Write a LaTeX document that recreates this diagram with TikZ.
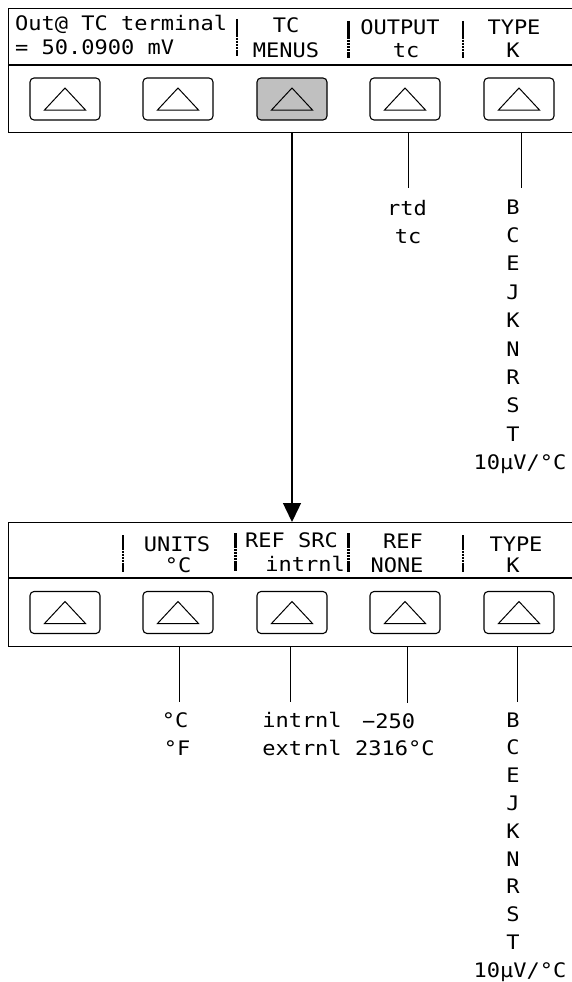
\documentclass[tikz,border=0pt]{standalone}
\usepackage{fontspec}
\usetikzlibrary{arrows.meta,calc}
\newfontfamily\lcdfont{DejaVu Sans Mono}[FakeStretch=1.1]
\definecolor{keygray}{RGB}{192,192,192}
\tikzset{
  lcd/.style={font=\lcdfont\fontsize{20}{20}\selectfont, inner sep=0pt, text=black},
  panelbox/.style={draw, line width=1.3pt, minimum width=580pt, minimum height=123.5pt, inner sep=0pt, anchor=north west},
  key/.style={draw, rounded corners=4pt, line width=1.1pt, minimum width=70pt, minimum height=42pt, inner sep=0pt},
  keyon/.style={key, fill=keygray},
  tri/.style={line width=1pt, line join=miter},
  sepbar/.style={line width=2.6pt, dash pattern=on 2.6pt off 0.5pt},
  wire/.style={line width=0.9pt},
  mark2/.style={line width=2.6pt},
}
\begin{document}
\begin{tikzpicture}[x=1pt,y=-1pt]
\useasboundingbox (0,0) rectangle (572,982);
% panels
\node[panelbox] (top) at (8,8) {};
\node[panelbox] (bot) at (8,522) {};
\draw[line width=1.3pt] ($(top.north west)+(0,57)$) -- ($(top.north east)+(0,57)$);
\draw[line width=1.3pt] ($(bot.north west)+(0,56)$) -- ($(bot.north east)+(0,56)$);
% keys
\node[key] (t1) at (65,99) {};
\node[key] (t2) at (178,99) {};
\node[keyon] (t3) at (292,99) {};
\node[key] (t4) at (405,99) {};
\node[key] (t5) at (519,99) {};
\node[key] (u1) at (65,612.5) {};
\node[key] (u2) at (178,612.5) {};
\node[key] (u3) at (292,612.5) {};
\node[key] (u4) at (405,612.5) {};
\node[key] (u5) at (519,612.5) {};
\foreach \b in {t1,t2,t3,t4,t5,u1,u2,u3,u4,u5}
  \draw[tri] ($(\b)+(-20.5,11)$) -- ($(\b)+(0,-11)$) -- ($(\b)+(20.5,11)$) -- cycle;
% top display text
\node[lcd, anchor=base west] (l1) at (15,31) {Out@ TC terminal};
\node[lcd, anchor=base west] (l2) at (15,55) {= 50.0900 mV};
\draw[sepbar] (237,19) -- (237,56);
\node[lcd, anchor=base] (m1) at (286,33) {TC};
\node[lcd, anchor=base] (m2) at (286,57) {MENUS};
\draw[sepbar] (348.5,21) -- (348.5,58);
\draw[mark2] (338,65) -- (349,65);
\node[lcd, anchor=base] (o1) at (400,35) {OUTPUT};
\node[lcd, anchor=base] (o2) at (406,57) {tc};
\draw[sepbar] (463,21) -- (463,58);
\node[lcd, anchor=base] (y1) at (514,35) {TYPE};
\node[lcd, anchor=base] (y2) at (513,57) {K};
% bottom display text
\draw[sepbar] (123,535) -- (123,572);
\node[lcd, anchor=base] (n1) at (177,551) {UNITS};
\node[lcd, anchor=base] (n2) at (178,572) {°C};
\draw[sepbar] (235.5,533) -- (235.5,571);
\node[lcd, anchor=base west] (r1) at (245,547) {REF SRC};
\node[lcd, anchor=base east] (r2) at (345,571) {intrnl};
\draw[sepbar] (348.5,533) -- (348.5,572);
\draw[mark2] (338,578) -- (349,578);
\node[lcd, anchor=base] (f1) at (403,548) {REF};
\node[lcd, anchor=base] (f2) at (397,572) {NONE};
\draw[sepbar] (463,535) -- (463,572);
\node[lcd, anchor=base] (z1) at (516,551) {TYPE};
\node[lcd, anchor=base] (z2) at (513,572) {K};
% arrow
\draw[line width=1.4pt, -{Triangle[width=18pt,length=19pt]}] (top.south -| t3) -- (bot.north -| t3);
% top option lists
\coordinate (e4) at (408,188);
\coordinate (e5) at (521,188);
\draw[wire] (top.south -| e4) -- (e4);
\draw[wire] (top.south -| e5) -- (e5);
\node[lcd, anchor=base] (rtd) at (407,215) {rtd};
\node[lcd, anchor=base] (tcx) at (408,243) {tc};
\foreach \l [count=\i from 0] in {B,C,E,J,K,N,R,S,T}
  \node[lcd, anchor=base] (ta\i) at (513,214+28.4*\i) {\l};
\node[lcd, anchor=base] (ta9) at (520,214+28.4*9) {10µV/°C};
% bottom option lists
\coordinate (g2) at (179,702);
\coordinate (g3) at (290,702);
\coordinate (g4) at (407,703);
\coordinate (g5) at (517,702);
\draw[wire] (bot.south -| g2) -- (g2);
\draw[wire] (bot.south -| g3) -- (g3);
\draw[wire] (bot.south -| g4) -- (g4);
\draw[wire] (bot.south -| g5) -- (g5);
\node[lcd, anchor=base] (h1) at (175,727) {°C};
\node[lcd, anchor=base] (h2) at (177,755) {°F};
\node[lcd, anchor=base] (i1) at (302,727) {intrnl};
\node[lcd, anchor=base] (i2) at (302,755) {extrnl};
\node[lcd, anchor=base west] (v1) at (362,728) {−250};
\node[lcd, anchor=base west] (v2) at (355,755) {2316°C};
\foreach \l [count=\i from 0] in {B,C,E,J,K,N,R,S,T}
  \node[lcd, anchor=base] (ua\i) at (513,727+27.8*\i) {\l};
\node[lcd, anchor=base] (ua9) at (520,727+27.8*9) {10µV/°C};
\end{tikzpicture}
\end{document}
